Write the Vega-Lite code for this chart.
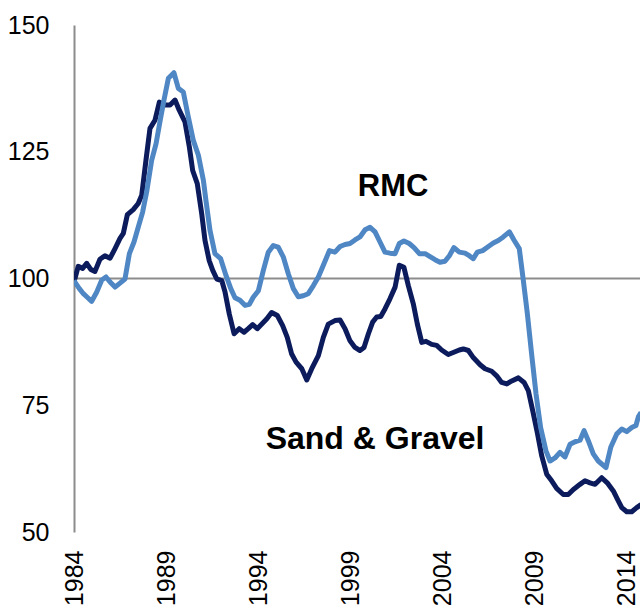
{
  "$schema": "https://vega.github.io/schema/vega-lite/v6.json",
  "width": 566,
  "height": 507,
  "autosize": {"type": "none"},
  "padding": {"left": 74, "top": 25, "right": 0, "bottom": 74},
  "background": "white",
  "config": {"view": {"stroke": null}, "font": "Liberation Sans"},
  "datasets": {
    "sg": [
      {"year": 1984.0, "value": 99.5}, {"year": 1984.05, "value": 100}, {"year": 1984.23, "value": 102.4}, {"year": 1984.47, "value": 102}, {"year": 1984.69, "value": 103}, {"year": 1984.91, "value": 101.8},
      {"year": 1985.14, "value": 101.4}, {"year": 1985.41, "value": 103.8}, {"year": 1985.68, "value": 104.5}, {"year": 1985.96, "value": 104},
      {"year": 1986.23, "value": 105.9}, {"year": 1986.5, "value": 107.9}, {"year": 1986.68, "value": 108.9}, {"year": 1986.9, "value": 112.6},
      {"year": 1987.22, "value": 113.6}, {"year": 1987.49, "value": 114.8}, {"year": 1987.68, "value": 116.4}, {"year": 1987.91, "value": 123.3},
      {"year": 1988.13, "value": 129.6}, {"year": 1988.4, "value": 131.2}, {"year": 1988.64, "value": 134.8}, {"year": 1988.89, "value": 134.2},
      {"year": 1989.22, "value": 134.2}, {"year": 1989.49, "value": 135.2}, {"year": 1989.72, "value": 133.2}, {"year": 1990.03, "value": 130.9},
      {"year": 1990.27, "value": 125.9}, {"year": 1990.45, "value": 121.3}, {"year": 1990.7, "value": 118.7}, {"year": 1990.94, "value": 112.8},
      {"year": 1991.12, "value": 107.5}, {"year": 1991.35, "value": 103.5}, {"year": 1991.54, "value": 101.6}, {"year": 1991.76, "value": 99.9},
      {"year": 1992.03, "value": 99.6}, {"year": 1992.21, "value": 97.3}, {"year": 1992.44, "value": 93}, {"year": 1992.7, "value": 89.1},
      {"year": 1992.98, "value": 90.1}, {"year": 1993.24, "value": 89.4}, {"year": 1993.47, "value": 90.1}, {"year": 1993.71, "value": 90.9},
      {"year": 1993.96, "value": 90.1}, {"year": 1994.26, "value": 91.2}, {"year": 1994.47, "value": 92}, {"year": 1994.74, "value": 93.3},
      {"year": 1995.05, "value": 92.7}, {"year": 1995.34, "value": 90.7}, {"year": 1995.59, "value": 88.4}, {"year": 1995.83, "value": 85.1},
      {"year": 1996.07, "value": 83.5}, {"year": 1996.38, "value": 82.2}, {"year": 1996.65, "value": 80}, {"year": 1996.92, "value": 82.2},
      {"year": 1997.28, "value": 84.8}, {"year": 1997.55, "value": 88.4}, {"year": 1997.82, "value": 91}, {"year": 1998.18, "value": 91.7},
      {"year": 1998.46, "value": 91.8}, {"year": 1998.73, "value": 90.1}, {"year": 1999.0, "value": 87.7}, {"year": 1999.27, "value": 86.4},
      {"year": 1999.54, "value": 85.8}, {"year": 1999.76, "value": 86.4}, {"year": 2000.0, "value": 89.1}, {"year": 2000.23, "value": 91.4},
      {"year": 2000.45, "value": 92.4}, {"year": 2000.67, "value": 92.5}, {"year": 2000.9, "value": 94}, {"year": 2001.17, "value": 96},
      {"year": 2001.45, "value": 98.3}, {"year": 2001.68, "value": 102.6}, {"year": 2001.93, "value": 102.2}, {"year": 2002.17, "value": 98.6},
      {"year": 2002.44, "value": 95}, {"year": 2002.66, "value": 91}, {"year": 2002.9, "value": 87.4}, {"year": 2003.13, "value": 87.6},
      {"year": 2003.44, "value": 87}, {"year": 2003.71, "value": 86.8}, {"year": 2003.98, "value": 85.9}, {"year": 2004.34, "value": 85},
      {"year": 2004.61, "value": 85.4}, {"year": 2004.94, "value": 85.9}, {"year": 2005.16, "value": 86.1}, {"year": 2005.43, "value": 85.8},
      {"year": 2005.7, "value": 84.4}, {"year": 2006.07, "value": 83}, {"year": 2006.34, "value": 82.2}, {"year": 2006.7, "value": 81.7},
      {"year": 2006.97, "value": 80.8}, {"year": 2007.24, "value": 79.5}, {"year": 2007.52, "value": 79.2}, {"year": 2007.79, "value": 79.8},
      {"year": 2008.15, "value": 80.4}, {"year": 2008.46, "value": 79.5}, {"year": 2008.69, "value": 77.9}, {"year": 2008.93, "value": 73.9},
      {"year": 2009.18, "value": 69.6}, {"year": 2009.42, "value": 65}, {"year": 2009.69, "value": 61.4}, {"year": 2009.96, "value": 60.1},
      {"year": 2010.23, "value": 58.6}, {"year": 2010.59, "value": 57.4}, {"year": 2010.86, "value": 57.4}, {"year": 2011.14, "value": 58.4},
      {"year": 2011.5, "value": 59.4}, {"year": 2011.77, "value": 60.1}, {"year": 2012.04, "value": 59.7}, {"year": 2012.32, "value": 59.4},
      {"year": 2012.68, "value": 60.7}, {"year": 2012.98, "value": 59.7}, {"year": 2013.31, "value": 58.1}, {"year": 2013.53, "value": 56.5},
      {"year": 2013.77, "value": 54.8}, {"year": 2014.04, "value": 54}, {"year": 2014.31, "value": 54}, {"year": 2014.58, "value": 54.8},
      {"year": 2014.82, "value": 55.4}
    ],
    "rmc": [
      {"year": 1984.0, "value": 99.6}, {"year": 1984.05, "value": 99.3}, {"year": 1984.29, "value": 98}, {"year": 1984.51, "value": 97}, {"year": 1984.72, "value": 96.3}, {"year": 1984.96, "value": 95.5},
      {"year": 1985.23, "value": 97.3}, {"year": 1985.51, "value": 99.7}, {"year": 1985.74, "value": 100.3}, {"year": 1985.96, "value": 99.3},
      {"year": 1986.23, "value": 98.3}, {"year": 1986.5, "value": 99.1}, {"year": 1986.77, "value": 99.9}, {"year": 1987.01, "value": 104.9},
      {"year": 1987.26, "value": 107.2}, {"year": 1987.49, "value": 110.1}, {"year": 1987.73, "value": 113.1}, {"year": 1987.95, "value": 117.1},
      {"year": 1988.22, "value": 123.3}, {"year": 1988.46, "value": 126.6}, {"year": 1988.67, "value": 130.9}, {"year": 1988.89, "value": 135.2},
      {"year": 1989.13, "value": 139.5}, {"year": 1989.43, "value": 140.6}, {"year": 1989.67, "value": 137.5}, {"year": 1989.94, "value": 136.8},
      {"year": 1990.21, "value": 131.9}, {"year": 1990.48, "value": 127.3}, {"year": 1990.76, "value": 124.3}, {"year": 1991.03, "value": 119.4},
      {"year": 1991.17, "value": 115.4}, {"year": 1991.39, "value": 109.5}, {"year": 1991.66, "value": 104.9}, {"year": 1991.97, "value": 103.9},
      {"year": 1992.26, "value": 100.6}, {"year": 1992.52, "value": 98}, {"year": 1992.75, "value": 96.2}, {"year": 1993.02, "value": 95.7},
      {"year": 1993.29, "value": 94.7}, {"year": 1993.53, "value": 94.9}, {"year": 1993.74, "value": 96.3}, {"year": 1994.02, "value": 97.6},
      {"year": 1994.29, "value": 101.6}, {"year": 1994.56, "value": 105.2}, {"year": 1994.83, "value": 106.5}, {"year": 1995.1, "value": 106.2},
      {"year": 1995.38, "value": 104.2}, {"year": 1995.65, "value": 100.9}, {"year": 1995.92, "value": 98}, {"year": 1996.19, "value": 96.4},
      {"year": 1996.46, "value": 96.6}, {"year": 1996.73, "value": 97}, {"year": 1997.01, "value": 98.6}, {"year": 1997.28, "value": 100.3},
      {"year": 1997.55, "value": 102.6}, {"year": 1997.88, "value": 105.5}, {"year": 1998.18, "value": 105.2}, {"year": 1998.46, "value": 106.3},
      {"year": 1998.73, "value": 106.7}, {"year": 1999.0, "value": 106.9}, {"year": 1999.27, "value": 107.6}, {"year": 1999.54, "value": 108.2},
      {"year": 1999.82, "value": 109.6}, {"year": 2000.09, "value": 110.1}, {"year": 2000.36, "value": 109.2}, {"year": 2000.63, "value": 107.2},
      {"year": 2000.9, "value": 105.2}, {"year": 2001.17, "value": 105}, {"year": 2001.45, "value": 104.9}, {"year": 2001.68, "value": 106.9},
      {"year": 2001.93, "value": 107.4}, {"year": 2002.22, "value": 106.9}, {"year": 2002.48, "value": 106.1}, {"year": 2002.77, "value": 104.9},
      {"year": 2003.08, "value": 104.9}, {"year": 2003.35, "value": 104.3}, {"year": 2003.62, "value": 103.7}, {"year": 2003.89, "value": 103.2},
      {"year": 2004.16, "value": 103.4}, {"year": 2004.4, "value": 104.5}, {"year": 2004.65, "value": 106.1}, {"year": 2004.94, "value": 105.2},
      {"year": 2005.25, "value": 105}, {"year": 2005.48, "value": 104.5}, {"year": 2005.7, "value": 103.9}, {"year": 2005.92, "value": 105.2},
      {"year": 2006.21, "value": 105.5}, {"year": 2006.52, "value": 106.3}, {"year": 2006.79, "value": 107}, {"year": 2007.06, "value": 107.5},
      {"year": 2007.33, "value": 108.2}, {"year": 2007.66, "value": 109.2}, {"year": 2007.91, "value": 107.6}, {"year": 2008.2, "value": 105.9},
      {"year": 2008.42, "value": 99.6}, {"year": 2008.64, "value": 93}, {"year": 2008.87, "value": 85.1}, {"year": 2009.11, "value": 77.2},
      {"year": 2009.36, "value": 70.6}, {"year": 2009.65, "value": 66}, {"year": 2009.87, "value": 64}, {"year": 2010.14, "value": 64.6},
      {"year": 2010.41, "value": 65.7}, {"year": 2010.68, "value": 64.8}, {"year": 2010.96, "value": 67.3}, {"year": 2011.23, "value": 67.8},
      {"year": 2011.5, "value": 68.1}, {"year": 2011.72, "value": 70}, {"year": 2011.95, "value": 68}, {"year": 2012.22, "value": 65.4},
      {"year": 2012.49, "value": 64}, {"year": 2012.91, "value": 62.7}, {"year": 2013.17, "value": 66.7}, {"year": 2013.49, "value": 69.3},
      {"year": 2013.77, "value": 70.3}, {"year": 2014.04, "value": 69.8}, {"year": 2014.31, "value": 70.6}, {"year": 2014.54, "value": 71},
      {"year": 2014.67, "value": 72.7}, {"year": 2014.82, "value": 73.6}
    ],
    "ref": [{"value": 100}],
    "labels": [
      {"year": 2001.34, "value": 116.3, "label": "RMC", "size": "a"},
      {"year": 2000.36, "value": 66.4, "label": "Sand & Gravel", "size": "b"}
    ]
  },
  "layer": [
    {
      "data": {"name": "ref"},
      "mark": {"type": "rule", "color": "#8c8c8c", "strokeWidth": 2},
      "encoding": {"y": {"field": "value", "type": "quantitative", "scale": {"domain": [50, 150]}}}
    },
    {
      "data": {"name": "sg"},
      "mark": {"type": "line", "color": "#0C1B5C", "strokeWidth": 5, "clip": true, "strokeJoin": "round"},
      "encoding": {
        "x": {"field": "year", "type": "quantitative", "scale": {"domain": [1984, 2014.76], "nice": false, "zero": false},
          "axis": {"title": null, "values": [1984, 1989, 1994, 1999, 2004, 2009, 2014], "format": "d", "labelAngle": 270, "labelFontSize": 25, "labelColor": "#000000", "labelFont": "Liberation Sans", "ticks": false, "domain": false, "grid": false, "labelPadding": 18, "labelFlush": false, "labelOverlap": false}},
        "y": {"field": "value", "type": "quantitative", "scale": {"domain": [50, 150], "nice": false, "zero": false},
          "axis": {"title": null, "values": [50, 75, 100, 125, 150], "labelFontSize": 25, "labelColor": "#000000", "labelFont": "Liberation Sans", "ticks": false, "domainColor": "#8c8c8c", "domainWidth": 2, "grid": false, "labelPadding": 25, "labelFlush": false, "labelOverlap": false}}
      }
    },
    {
      "data": {"name": "rmc"},
      "mark": {"type": "line", "color": "#4F86C4", "strokeWidth": 5, "clip": true, "strokeJoin": "round"},
      "encoding": {
        "x": {"field": "year", "type": "quantitative"},
        "y": {"field": "value", "type": "quantitative"}
      }
    },
    {
      "data": {"name": "labels"},
      "mark": {"type": "text", "font": "Liberation Sans", "fontWeight": "bold", "color": "#000000", "align": "center", "baseline": "alphabetic"},
      "encoding": {
        "x": {"field": "year", "type": "quantitative"},
        "y": {"field": "value", "type": "quantitative"},
        "text": {"field": "label"},
        "size": {"field": "size", "type": "nominal", "scale": {"domain": ["a", "b"], "range": [31, 32]}, "legend": null}
      }
    }
  ]
}
